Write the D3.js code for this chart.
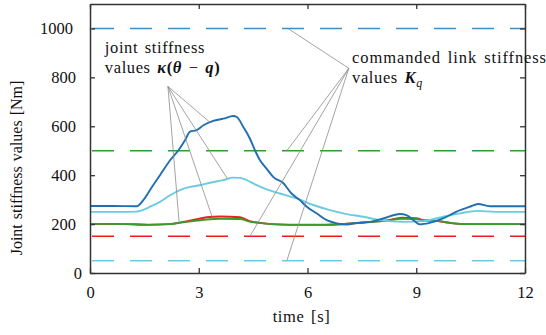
<!DOCTYPE html>
<html>
<head>
<meta charset="utf-8">
<script src="https://cdn.jsdelivr.net/npm/d3@7"></script>
<style>
  body { margin: 0; background: #fff; }
  svg text { font-family: "Liberation Serif", "DejaVu Serif", "Noto Serif", "Times New Roman", Times, serif; fill: #111; }
</style>
</head>
<body>
<svg id="chart" width="546" height="335"></svg>
<script>
const timeTicks = [0, 3, 6, 9, 12];
const stiffTicks = [0, 200, 400, 600, 800, 1000];

// measured joint stiffness [time, value]
const jointBlue = [
  [0, 274], [0.6, 274], [1.29, 273], [1.47, 298], [1.7, 350], [1.93, 400], [2.21, 461],
  [2.44, 502], [2.62, 543], [2.76, 578], [2.94, 584], [3.13, 604], [3.4, 622],
  [3.68, 631], [3.95, 642], [4.05, 638], [4.23, 597], [4.41, 550], [4.55, 502],
  [4.69, 461], [4.87, 427], [5.06, 392], [5.33, 368], [5.56, 325], [5.79, 298],
  [5.98, 271], [6.25, 244], [6.53, 216], [6.81, 203], [7.08, 198], [7.36, 205],
  [7.72, 209], [8.09, 223], [8.55, 241], [8.73, 237], [8.92, 216], [9.1, 199],
  [9.37, 205], [9.74, 223], [10.1, 250], [10.48, 271], [10.71, 282], [11.03, 273],
  [11.5, 273], [12, 273]
];
const jointCyan = [
  [0, 250], [0.7, 250], [1.29, 251], [1.38, 254], [1.66, 271], [1.93, 291], [2.21, 318],
  [2.48, 339], [2.76, 352], [3.03, 359], [3.31, 369], [3.68, 380], [3.95, 390],
  [4.14, 389], [4.32, 380], [4.6, 359], [4.87, 342], [5.24, 325], [5.7, 305],
  [6.16, 278], [6.62, 257], [7.08, 241], [7.54, 230], [8.0, 216], [8.64, 209],
  [9.19, 212], [9.74, 230], [10.21, 244], [10.67, 254], [11.2, 250], [12, 250]
];
const jointRed = [
  [0, 201], [1.0, 200], [1.6, 197], [2.2, 200], [2.57, 209], [2.95, 220], [3.22, 228],
  [3.6, 231], [4.14, 228], [4.4, 212], [4.7, 205], [5.0, 200], [5.5, 197],
  [6.5, 197], [7.0, 200], [7.6, 207], [8.2, 215], [8.6, 226], [9.0, 224],
  [9.2, 216], [9.5, 214], [10.0, 203], [10.4, 200], [12, 200]
];
const jointGreen = [
  [0, 201], [1.0, 200], [1.6, 198], [2.2, 200], [2.57, 207], [2.95, 214], [3.22, 219],
  [3.6, 222], [4.14, 221], [4.4, 210], [4.7, 204], [5.0, 200], [5.5, 198],
  [6.5, 198], [7.0, 201], [7.6, 207], [8.2, 214], [8.6, 222], [9.0, 221],
  [9.2, 215], [9.5, 214], [10.0, 204], [10.4, 200], [12, 200]
];

// commanded link stiffness levels
const commandedLevels = [1000, 500, 150, 50];
const commandedColors = ["#3f8fcb", "#2ca02c", "#ee1c1c", "#6ccbe0"];

const joint = [
  { values: jointRed, color: "#e8221f" },
  { values: jointGreen, color: "#3a9a2c" },
  { values: jointCyan, color: "#6ccbe0" },
  { values: jointBlue, color: "#1f6fb2" }
];

// annotation anchors and targets in data units [time, value]
const jointLabelAnchor = [2.15, 763];
const jointTargets = [[3.31, 616], [3.78, 388], [3.37, 229], [2.46, 204]];
const linkLabelAnchor = [7.14, 837];
const linkTargets = [[5.46, 1000], [5.43, 500], [4.41, 150], [5.43, 50]];

const width = 546, height = 335;
const margin = { left: 90, right: 21, top: 4, bottom: 62 };
const serif = '"Liberation Serif", "DejaVu Serif", "Noto Serif", "Times New Roman", Times, serif';

const svg = d3.select("#chart");

const x = d3.scaleLinear().domain([0, 12]).range([margin.left, width - margin.right]);
const y = d3.scaleLinear().domain([0, 1100]).range([height - margin.bottom, margin.top]);

const plotW = x.range()[1] - x.range()[0];
const plotH = y.range()[0] - y.range()[1];

svg.append("defs").append("clipPath").attr("id", "clip")
  .append("rect")
  .attr("x", x(0)).attr("y", y(1100))
  .attr("width", plotW).attr("height", plotH);

const plot = svg.append("g").attr("clip-path", "url(#clip)");

// commanded (dashed)
plot.selectAll(".cmd")
  .data(commandedLevels)
  .enter()
  .append("line")
  .attr("class", "cmd")
  .attr("x1", x(0) + 2).attr("x2", x(12))
  .attr("y1", (d) => y(d)).attr("y2", (d) => y(d))
  .attr("stroke", (d, i) => commandedColors[i])
  .attr("stroke-width", 1.4)
  .attr("stroke-dasharray", "22 16");

// joint stiffness curves
const line = d3.line()
  .x((d) => x(d[0]))
  .y((d) => y(d[1]))
  .curve(d3.curveMonotoneX);

plot.selectAll(".joint")
  .data(joint)
  .enter()
  .append("path")
  .attr("class", "joint")
  .attr("d", (d) => line(d.values))
  .attr("fill", "none")
  .attr("stroke", (d) => d.color)
  .attr("stroke-width", 1.9);

// pointer lines
const pointers = svg.append("g")
  .attr("stroke", "#8c8c8c")
  .attr("stroke-width", 0.8);

pointers.selectAll(".pj")
  .data(jointTargets)
  .enter()
  .append("line")
  .attr("x1", x(jointLabelAnchor[0])).attr("y1", y(jointLabelAnchor[1]))
  .attr("x2", (d) => x(d[0])).attr("y2", (d) => y(d[1]));

pointers.selectAll(".pl")
  .data(linkTargets)
  .enter()
  .append("line")
  .attr("x1", x(linkLabelAnchor[0])).attr("y1", y(linkLabelAnchor[1]))
  .attr("x2", (d) => x(d[0])).attr("y2", (d) => y(d[1]));

// axes with inward ticks, mirrored
const tickLen = 5;
const axisFont = 16.5;

const xAxis = svg.append("g")
  .attr("transform", `translate(0, ${y(0)})`)
  .call(d3.axisBottom(x).tickValues(timeTicks).tickSizeInner(-tickLen).tickSizeOuter(0).tickPadding(13).tickFormat(d3.format("d")));
const xTop = svg.append("g")
  .attr("transform", `translate(0, ${y(1100)})`)
  .call(d3.axisTop(x).tickValues(timeTicks).tickSizeInner(-tickLen).tickSizeOuter(0).tickFormat(""));
const yAxis = svg.append("g")
  .attr("transform", `translate(${x(0)}, 0)`)
  .call(d3.axisLeft(y).tickValues(stiffTicks).tickSizeInner(-tickLen).tickSizeOuter(0).tickPadding(14).tickFormat(d3.format("d")));
const yRight = svg.append("g")
  .attr("transform", `translate(${x(12)}, 0)`)
  .call(d3.axisRight(y).tickValues(stiffTicks).tickSizeInner(-tickLen).tickSizeOuter(0).tickFormat(""));

[xAxis, xTop, yAxis, yRight].forEach((a) => {
  a.attr("font-family", serif).attr("font-size", axisFont);
  a.select(".domain").attr("stroke", "#333").attr("stroke-width", 1.5);
  a.selectAll(".tick line").attr("stroke", "#333").attr("stroke-width", 1.3);
  a.selectAll("text").attr("fill", "#111");
});
yAxis.selectAll(".tick text").filter((d) => d === 0).attr("dx", 6);
yAxis.selectAll(".tick text").filter((d) => d === 1000).attr("dx", -3);

// axis titles
svg.append("text")
  .text("time [s]")
  .attr("x", x(6) - 6)
  .attr("y", 322)
  .attr("text-anchor", "middle")
  .style("font-size", "16.5px")
  .style("letter-spacing", "0.6px")
  .style("word-spacing", "2px");

svg.append("text")
  .text("Joint stiffness values [Nm]")
  .attr("transform", `translate(22, 168) rotate(-90)`)
  .attr("text-anchor", "middle")
  .style("font-size", "16px")
  .style("word-spacing", "1px");

// annotations
const annoStyle = (t) => t.style("font-size", "16.5px").style("letter-spacing", "0.6px").style("word-spacing", "2px");

const jl = svg.append("text").attr("x", x(0.41)).attr("y", y(898)).call(annoStyle);
jl.append("tspan").text("joint stiffness");
const jl2 = svg.append("text").attr("x", x(0.41)).attr("y", y(816)).call(annoStyle);
jl2.append("tspan").text("values ");
jl2.append("tspan").text("κ").style("font-weight", "bold").style("font-style", "italic");
jl2.append("tspan").text("(").style("font-weight", "bold");
jl2.append("tspan").text("θ").style("font-weight", "bold").style("font-style", "italic");
jl2.append("tspan").text(" − ");
jl2.append("tspan").text("q").style("font-weight", "bold").style("font-style", "italic");
jl2.append("tspan").text(")").style("font-weight", "bold");

const ll = svg.append("text").attr("x", x(7.23)).attr("y", y(857)).call(annoStyle);
ll.append("tspan").text("commanded link stiffness").style("letter-spacing", "0.9px");
const ll2 = svg.append("text").attr("x", x(7.23)).attr("y", y(776)).call(annoStyle);
ll2.append("tspan").text("values ");
ll2.append("tspan").text("K").style("font-weight", "bold").style("font-style", "italic");
ll2.append("tspan").text("q").style("font-style", "italic").style("font-size", "12px").attr("dy", 4);
</script>
</body>
</html>
